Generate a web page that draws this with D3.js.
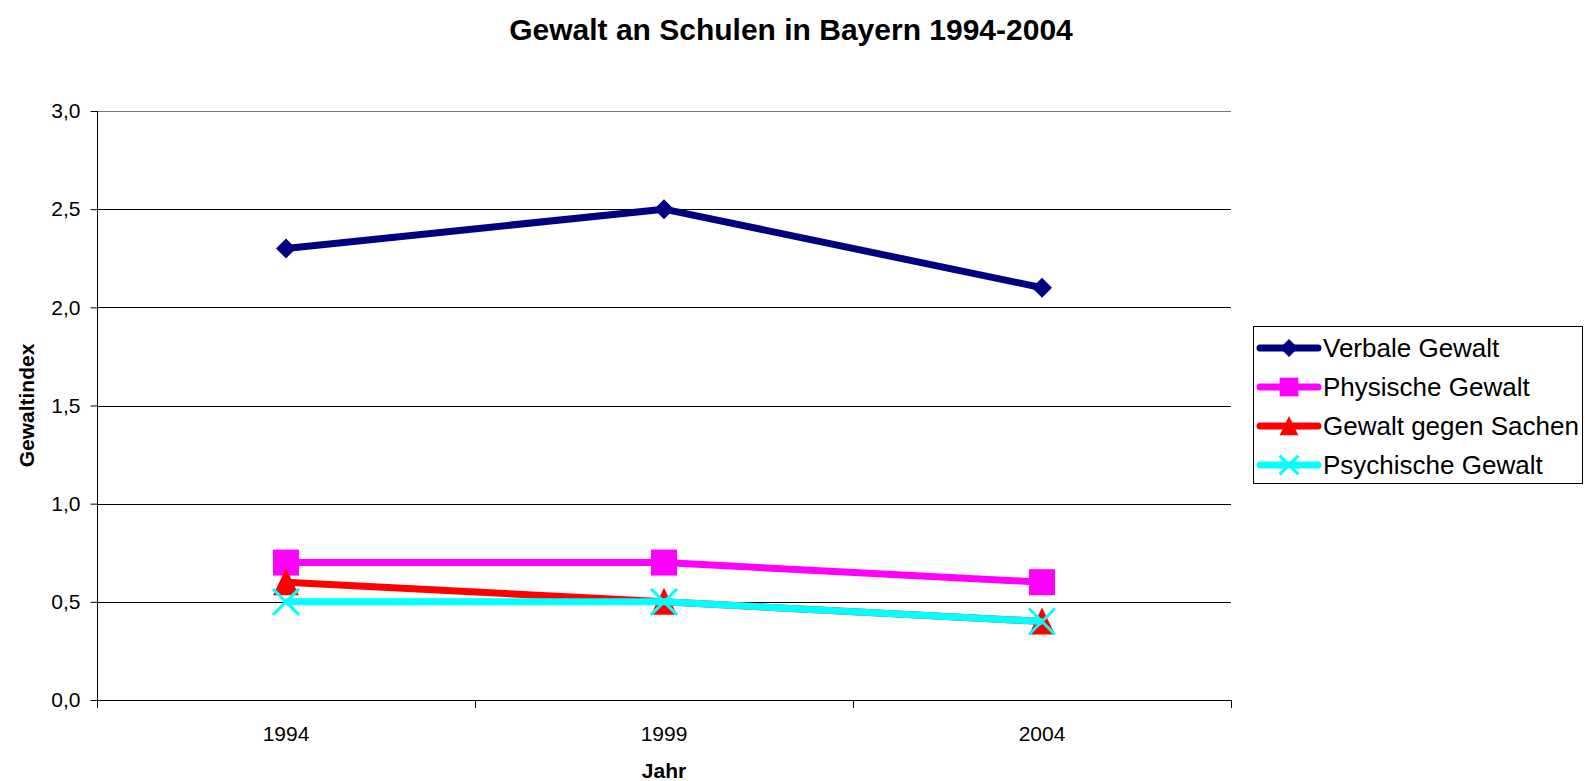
<!DOCTYPE html>
<html>
<head>
<meta charset="utf-8">
<script src="https://cdn.jsdelivr.net/npm/d3@7"></script>
<style>
  body { margin: 0; background: #fff; }
  svg { display: block; font-family: "Liberation Sans", Arial, sans-serif; }
</style>
</head>
<body>
<svg id="chart" width="1585" height="781"></svg>
<script>
var years = ["1994", "1999", "2004"];
var yTicks = [0, 0.5, 1, 1.5, 2, 2.5, 3];
var seriesNames = ["Verbale Gewalt", "Physische Gewalt", "Gewalt gegen Sachen", "Psychische Gewalt"];
var verbal = [2.3, 2.5, 2.1];
var physisch = [0.7, 0.7, 0.6];
var sachen = [0.6, 0.5, 0.4];
var psychisch = [0.5, 0.5, 0.4];
var colors = ["#000080", "#ff00ff", "#ff0000", "#00ffff"];
var markers = ["diamond", "square", "triangle", "cross"];

var series = [verbal, physisch, sachen, psychisch].map(function(v, i) {
    return { name: seriesNames[i], values: v, color: colors[i], marker: markers[i] };
});

var svg = d3.select("#chart");
// note: "top" is taken by window.top, so plotTop etc.
var plotLeft = 97, plotRight = 1231, plotTop = 111, plotBottom = 700;

var x = d3.scaleBand().domain(years).range([plotLeft, plotRight]);
var y = d3.scaleLinear().domain([0, 3]).range([plotBottom, plotTop]);
var fmt = function(d) { return d3.format(".1f")(d).replace(".", ","); };

// title
svg.append("text")
    .attr("x", 791).attr("y", 40)
    .attr("text-anchor", "middle")
    .style("font-weight", "bold").style("font-size", "30px")
    .text("Gewalt an Schulen in Bayern 1994-2004");

// gridlines
svg.append("g").selectAll("line")
    .data(yTicks.filter(function(d) { return d > 0; }))
    .join("line")
    .attr("x1", plotLeft).attr("x2", plotRight)
    .attr("y1", function(d) { return Math.round(y(d)) + 0.5; })
    .attr("y2", function(d) { return Math.round(y(d)) + 0.5; })
    .style("stroke", function(d) { return d === 3 ? "#777" : "#000"; })
    .style("stroke-width", 1);

// y axis
var yAxis = svg.append("g")
    .attr("transform", "translate(" + (plotLeft + 0.5) + ",0)")
    .call(d3.axisLeft(y).tickValues(yTicks).tickFormat(fmt).tickSize(7).tickPadding(10));
yAxis.select(".domain").attr("d", "M0," + plotTop + "V" + plotBottom);
yAxis.selectAll("text").style("font-size", "21px").style("font-family", "Liberation Sans, Arial, sans-serif").attr("fill", "#000");
yAxis.selectAll("line, path").attr("stroke", "#000");

// x axis
var xAxis = svg.append("g")
    .attr("transform", "translate(0," + (plotBottom + 0.5) + ")")
    .call(d3.axisBottom(x).tickSize(0).tickPadding(26));
xAxis.select(".domain").attr("d", "M" + plotLeft + ",0H" + plotRight).attr("stroke", "#000");
xAxis.selectAll("text").style("font-size", "21px").style("font-family", "Liberation Sans, Arial, sans-serif").attr("fill", "#000");
// tick marks between categories
var edges = years.map(function(d) { return x(d); }).concat([plotRight]);
svg.append("g").selectAll("line").data(edges).join("line")
    .attr("x1", function(d) { return Math.round(d) + 0.5; })
    .attr("x2", function(d) { return Math.round(d) + 0.5; })
    .attr("y1", plotBottom).attr("y2", plotBottom + 8)
    .style("stroke", "#000");

// axis titles
svg.append("text")
    .attr("x", 664).attr("y", 778)
    .attr("text-anchor", "middle")
    .style("font-weight", "bold").style("font-size", "21px")
    .text("Jahr");
svg.append("text")
    .attr("transform", "translate(34," + ((plotTop + plotBottom) / 2) + ") rotate(-90)")
    .attr("text-anchor", "middle")
    .style("font-weight", "bold").style("font-size", "21px")
    .text("Gewaltindex");

// marker shapes, k scales them down for the legend
function drawMarker(g, type, color, k) {
    k = k || 1;
    if (type === "diamond") {
        g.append("path").attr("d", "M0,-10L10,0L0,10L-10,0Z").style("fill", color);
    } else if (type === "square") {
        g.append("rect").attr("x", -13).attr("y", -13).attr("width", 26).attr("height", 26).style("fill", color);
    } else if (type === "triangle") {
        g.append("path").attr("d", "M0,-14L13,13L-13,13Z").style("fill", color);
    } else {
        g.append("path").attr("d", "M-13,-13L13,13M13,-13L-13,13")
            .style("stroke", color).style("stroke-width", 3 / k).style("fill", "none");
    }
    g.attr("transform", g.attr("transform") + " scale(" + k + ")");
}

var cx = function(d, i) { return x(years[i]) + x.bandwidth() / 2; };
var line = d3.line().x(cx).y(function(d) { return y(d); });

series.forEach(function(s) {
    var g = svg.append("g");
    g.append("path").datum(s.values)
        .attr("d", line)
        .style("fill", "none").style("stroke", s.color).style("stroke-width", 7)
        .style("stroke-linejoin", "round");
    s.values.forEach(function(v, i) {
        var m = g.append("g").attr("transform", "translate(" + cx(v, i) + "," + y(v) + ")");
        drawMarker(m, s.marker, s.color);
    });
});

// legend
var legend = svg.append("g");
legend.append("rect")
    .attr("x", 1253.5).attr("y", 326.5).attr("width", 329).attr("height", 157)
    .style("fill", "#fff").style("stroke", "#000").style("stroke-width", 1);
series.forEach(function(s, i) {
    var ly = 348 + i * 39;
    var row = legend.append("g");
    row.append("line")
        .attr("x1", 1260).attr("x2", 1318).attr("y1", ly).attr("y2", ly)
        .style("stroke", s.color).style("stroke-width", 7).style("stroke-linecap", "round");
    var m = row.append("g").attr("transform", "translate(1289," + ly + ")");
    drawMarker(m, s.marker, s.color, s.marker === "diamond" ? 0.9 : 0.72);
    row.append("text")
        .attr("x", 1323).attr("y", ly + 9)
        .style("font-size", "26px")
        .text(s.name);
});
</script>
</body>
</html>
